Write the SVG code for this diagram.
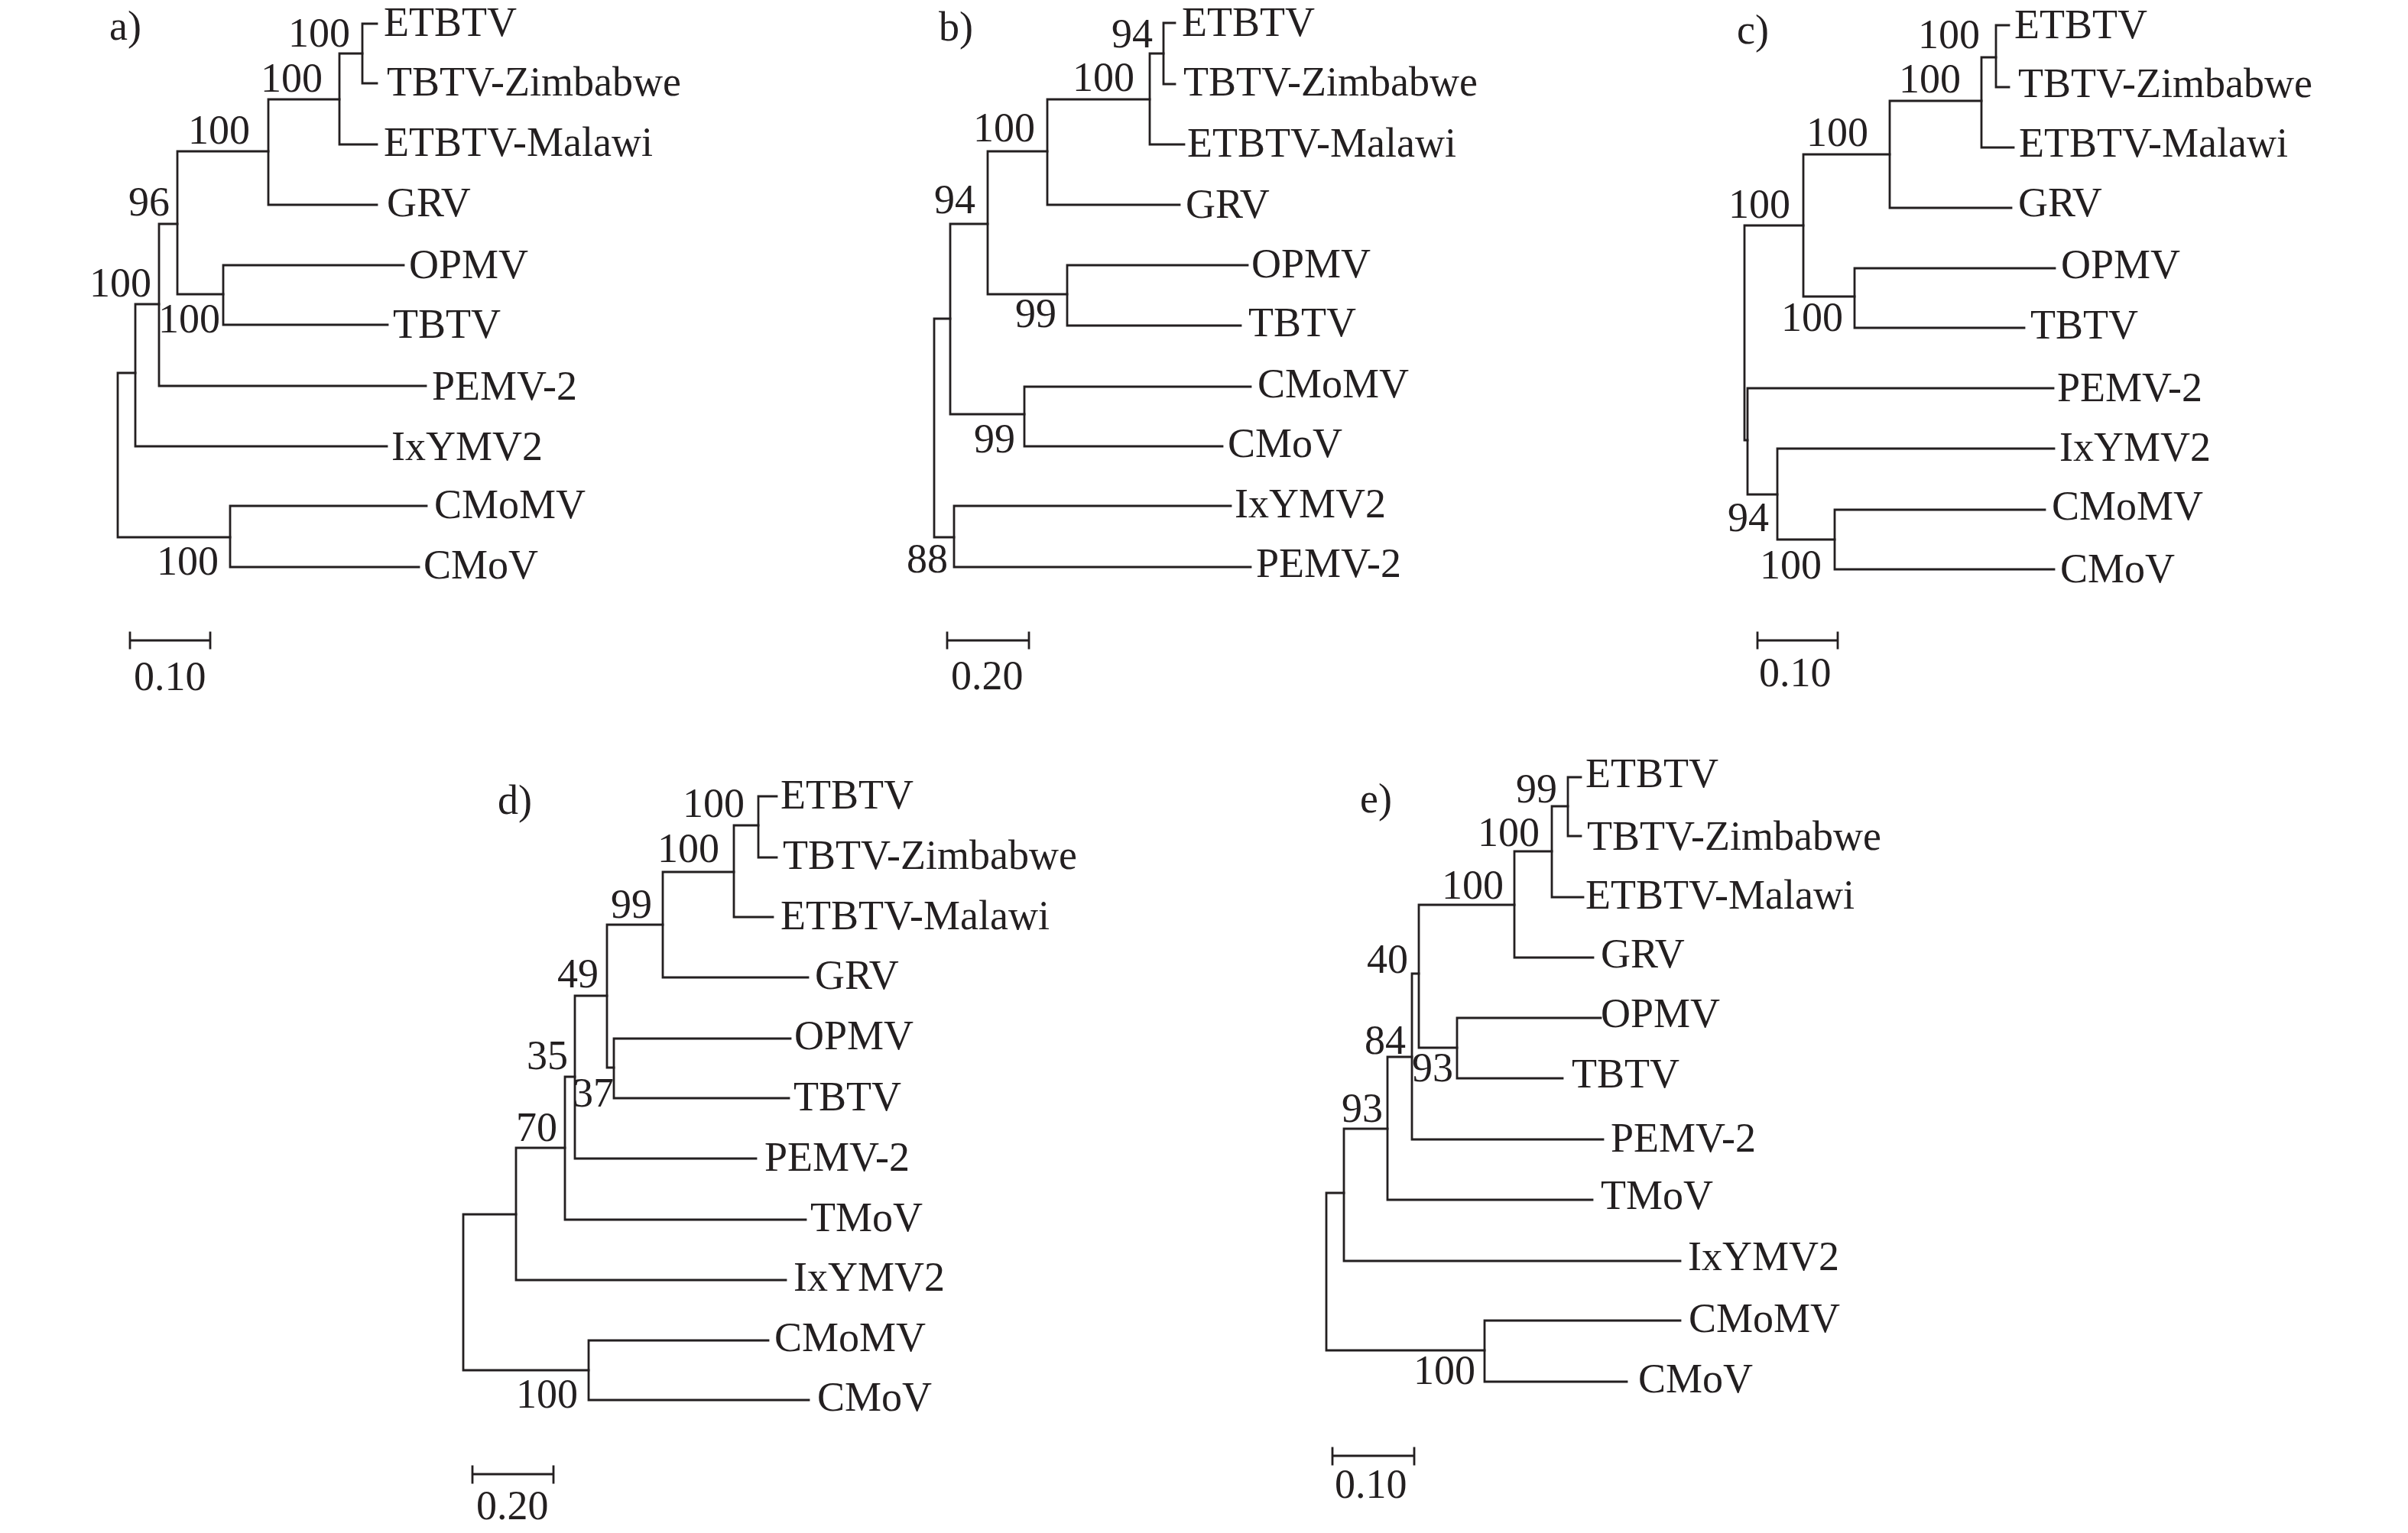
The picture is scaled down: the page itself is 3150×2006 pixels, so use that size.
<svg xmlns="http://www.w3.org/2000/svg" width="3150" height="2006" viewBox="0 0 3150 2006">
<style>
.br{fill:none;stroke:#231f20;stroke-width:2.8;stroke-linecap:square;stroke-linejoin:miter}
text{font-family:"Liberation Serif","Times New Roman",serif;font-size:54px;fill:#231f20}
.bs{text-anchor:end}
</style>
<rect width="3150" height="2006" fill="#ffffff"/>

<g id="panel-a">
<g id="a-connectors" class="br">
<path d="M493,31 H474 V109 H493"/>
<path d="M474,70 H444 V189 H493"/>
<path d="M444,130 H351 V268 H493"/>
<path d="M351,198 H232 V385 H292"/>
<path d="M528,347 H292 V425 H507"/>
<path d="M232,293 H208 V505 H557"/>
<path d="M208,398 H177 V584 H506"/>
<path d="M177,488 H154 V703 H301"/>
<path d="M558,662 H301 V742 H548"/>
<path d="M170,838 H275 M170,828 V848 M275,828 V848"/>
</g>
<text id="a-title" x="143" y="52">a)</text>
<g id="a-support">
<text class="bs" x="458" y="61">100</text>
<text class="bs" x="422" y="120">100</text>
<text class="bs" x="327" y="188">100</text>
<text class="bs" x="222" y="282">96</text>
<text class="bs" x="198" y="388">100</text>
<text class="bs" x="288" y="435">100</text>
<text class="bs" x="286" y="752">100</text>
</g>
<g id="a-ETBTV"><text x="502" y="47">ETBTV</text></g>
<g id="a-TBTV-Zimbabwe"><text x="506" y="125">TBTV-Zimbabwe</text></g>
<g id="a-ETBTV-Malawi"><text x="502" y="204">ETBTV-Malawi</text></g>
<g id="a-GRV"><text x="506" y="283">GRV</text></g>
<g id="a-OPMV"><text x="535" y="364">OPMV</text></g>
<g id="a-TBTV"><text x="514" y="442">TBTV</text></g>
<g id="a-PEMV-2"><text x="565" y="523">PEMV-2</text></g>
<g id="a-IxYMV2"><text x="512" y="602">IxYMV2</text></g>
<g id="a-CMoMV"><text x="568" y="678">CMoMV</text></g>
<g id="a-CMoV"><text x="554" y="757">CMoV</text></g>
<g id="a-scale"><text x="175" y="903">0.10</text></g>
</g>

<g id="panel-b">
<g id="b-connectors" class="br">
<path d="M1537,30 H1522 V110 H1537"/>
<path d="M1522,70 H1504 V189 H1549"/>
<path d="M1504,130 H1370 V268 H1543"/>
<path d="M1370,198 H1292 V385 H1396"/>
<path d="M1632,347 H1396 V426 H1623"/>
<path d="M1292,293 H1243 V542 H1340"/>
<path d="M1636,506 H1340 V584 H1599"/>
<path d="M1243,417 H1222 V703 H1248"/>
<path d="M1610,662 H1248 V742 H1636"/>
<path d="M1239,838 H1346 M1239,828 V848 M1346,828 V848"/>
</g>
<text id="b-title" x="1228" y="53">b)</text>
<g id="b-support">
<text class="bs" x="1508" y="62">94</text>
<text class="bs" x="1484" y="119">100</text>
<text class="bs" x="1354" y="185">100</text>
<text class="bs" x="1276" y="279">94</text>
<text class="bs" x="1382" y="428">99</text>
<text class="bs" x="1328" y="592">99</text>
<text class="bs" x="1240" y="749">88</text>
</g>
<g id="b-ETBTV"><text x="1546" y="47">ETBTV</text></g>
<g id="b-TBTV-Zimbabwe"><text x="1548" y="125">TBTV-Zimbabwe</text></g>
<g id="b-ETBTV-Malawi"><text x="1553" y="205">ETBTV-Malawi</text></g>
<g id="b-GRV"><text x="1551" y="285">GRV</text></g>
<g id="b-OPMV"><text x="1637" y="363">OPMV</text></g>
<g id="b-TBTV"><text x="1633" y="440">TBTV</text></g>
<g id="b-CMoMV"><text x="1645" y="520">CMoMV</text></g>
<g id="b-CMoV"><text x="1606" y="598">CMoV</text></g>
<g id="b-IxYMV2"><text x="1615" y="677">IxYMV2</text></g>
<g id="b-PEMV-2"><text x="1643" y="755">PEMV-2</text></g>
<g id="b-scale"><text x="1244" y="902">0.20</text></g>
</g>

<g id="panel-c">
<g id="c-connectors" class="br">
<path d="M2628,33 H2611 V114 H2628"/>
<path d="M2611,75 H2592 V193 H2634"/>
<path d="M2592,132 H2472 V272 H2631"/>
<path d="M2472,202 H2359 V388 H2426"/>
<path d="M2688,351 H2426 V429 H2648"/>
<path d="M2359,295 H2282 V576 H2286"/>
<path d="M2686,508 H2286 V647 H2325"/>
<path d="M2687,587 H2325 V706 H2400"/>
<path d="M2675,667 H2400 V745 H2687"/>
<path d="M2299,838 H2404 M2299,828 V848 M2404,828 V848"/>
</g>
<text id="c-title" x="2272" y="57">c)</text>
<g id="c-support">
<text class="bs" x="2590" y="63">100</text>
<text class="bs" x="2565" y="121">100</text>
<text class="bs" x="2444" y="191">100</text>
<text class="bs" x="2342" y="285">100</text>
<text class="bs" x="2411" y="433">100</text>
<text class="bs" x="2314" y="695">94</text>
<text class="bs" x="2383" y="757">100</text>
</g>
<g id="c-ETBTV"><text x="2635" y="50">ETBTV</text></g>
<g id="c-TBTV-Zimbabwe"><text x="2640" y="127">TBTV-Zimbabwe</text></g>
<g id="c-ETBTV-Malawi"><text x="2641" y="205">ETBTV-Malawi</text></g>
<g id="c-GRV"><text x="2640" y="283">GRV</text></g>
<g id="c-OPMV"><text x="2696" y="364">OPMV</text></g>
<g id="c-TBTV"><text x="2656" y="443">TBTV</text></g>
<g id="c-PEMV-2"><text x="2691" y="525">PEMV-2</text></g>
<g id="c-IxYMV2"><text x="2694" y="603">IxYMV2</text></g>
<g id="c-CMoMV"><text x="2684" y="680">CMoMV</text></g>
<g id="c-CMoV"><text x="2695" y="762">CMoV</text></g>
<g id="c-scale"><text x="2301" y="898">0.10</text></g>
</g>

<g id="panel-d">
<g id="d-connectors" class="br">
<path d="M1016,1042 H992 V1122 H1016"/>
<path d="M992,1080 H960 V1200 H1011"/>
<path d="M960,1141 H867 V1279 H1057"/>
<path d="M867,1210 H794 V1397 H803"/>
<path d="M1034,1359 H803 V1437 H1032"/>
<path d="M794,1303 H752 V1516 H989"/>
<path d="M752,1409 H739 V1596 H1054"/>
<path d="M739,1502 H675 V1675 H1028"/>
<path d="M675,1589 H606 V1793 H770"/>
<path d="M1005,1754 H770 V1832 H1058"/>
<path d="M618,1929 H724 M618,1919 V1940 M724,1919 V1940"/>
</g>
<text id="d-title" x="651" y="1065">d)</text>
<g id="d-support">
<text class="bs" x="974" y="1069">100</text>
<text class="bs" x="941" y="1128">100</text>
<text class="bs" x="853" y="1201">99</text>
<text class="bs" x="783" y="1292">49</text>
<text class="bs" x="743" y="1399">35</text>
<text class="bs" x="803" y="1448">37</text>
<text class="bs" x="729" y="1493">70</text>
<text class="bs" x="756" y="1842">100</text>
</g>
<g id="d-ETBTV"><text x="1021" y="1058">ETBTV</text></g>
<g id="d-TBTV-Zimbabwe"><text x="1024" y="1137">TBTV-Zimbabwe</text></g>
<g id="d-ETBTV-Malawi"><text x="1021" y="1216">ETBTV-Malawi</text></g>
<g id="d-GRV"><text x="1066" y="1294">GRV</text></g>
<g id="d-OPMV"><text x="1039" y="1373">OPMV</text></g>
<g id="d-TBTV"><text x="1038" y="1453">TBTV</text></g>
<g id="d-PEMV-2"><text x="1000" y="1532">PEMV-2</text></g>
<g id="d-TMoV"><text x="1060" y="1611">TMoV</text></g>
<g id="d-IxYMV2"><text x="1038" y="1689">IxYMV2</text></g>
<g id="d-CMoMV"><text x="1013" y="1768">CMoMV</text></g>
<g id="d-CMoV"><text x="1069" y="1846">CMoV</text></g>
<g id="d-scale"><text x="623" y="1988">0.20</text></g>
</g>

<g id="panel-e">
<g id="e-connectors" class="br">
<path d="M2068,1017 H2051 V1094 H2068"/>
<path d="M2051,1055 H2030 V1174 H2071"/>
<path d="M2030,1114 H1981 V1253 H2084"/>
<path d="M1981,1184 H1856 V1371 H1906"/>
<path d="M2094,1332 H1906 V1411 H2044"/>
<path d="M1856,1274 H1847 V1491 H2097"/>
<path d="M1847,1383 H1815 V1570 H2083"/>
<path d="M1815,1477 H1758 V1650 H2198"/>
<path d="M1758,1561 H1735 V1767 H1942"/>
<path d="M2198,1728 H1942 V1808 H2128"/>
<path d="M1743,1905 H1850 M1743,1895 V1916 M1850,1895 V1916"/>
</g>
<text id="e-title" x="1779" y="1063">e)</text>
<g id="e-support">
<text class="bs" x="2037" y="1050">99</text>
<text class="bs" x="2014" y="1107">100</text>
<text class="bs" x="1967" y="1176">100</text>
<text class="bs" x="1842" y="1273">40</text>
<text class="bs" x="1839" y="1379">84</text>
<text class="bs" x="1901" y="1415">93</text>
<text class="bs" x="1809" y="1468">93</text>
<text class="bs" x="1930" y="1811">100</text>
</g>
<g id="e-ETBTV"><text x="2074" y="1030">ETBTV</text></g>
<g id="e-TBTV-Zimbabwe"><text x="2076" y="1112">TBTV-Zimbabwe</text></g>
<g id="e-ETBTV-Malawi"><text x="2074" y="1189">ETBTV-Malawi</text></g>
<g id="e-GRV"><text x="2094" y="1266">GRV</text></g>
<g id="e-OPMV"><text x="2094" y="1344">OPMV</text></g>
<g id="e-TBTV"><text x="2056" y="1423">TBTV</text></g>
<g id="e-PEMV-2"><text x="2107" y="1507">PEMV-2</text></g>
<g id="e-TMoV"><text x="2094" y="1582">TMoV</text></g>
<g id="e-IxYMV2"><text x="2208" y="1662">IxYMV2</text></g>
<g id="e-CMoMV"><text x="2209" y="1743">CMoMV</text></g>
<g id="e-CMoV"><text x="2143" y="1822">CMoV</text></g>
<g id="e-scale"><text x="1746" y="1960">0.10</text></g>
</g>
</svg>
